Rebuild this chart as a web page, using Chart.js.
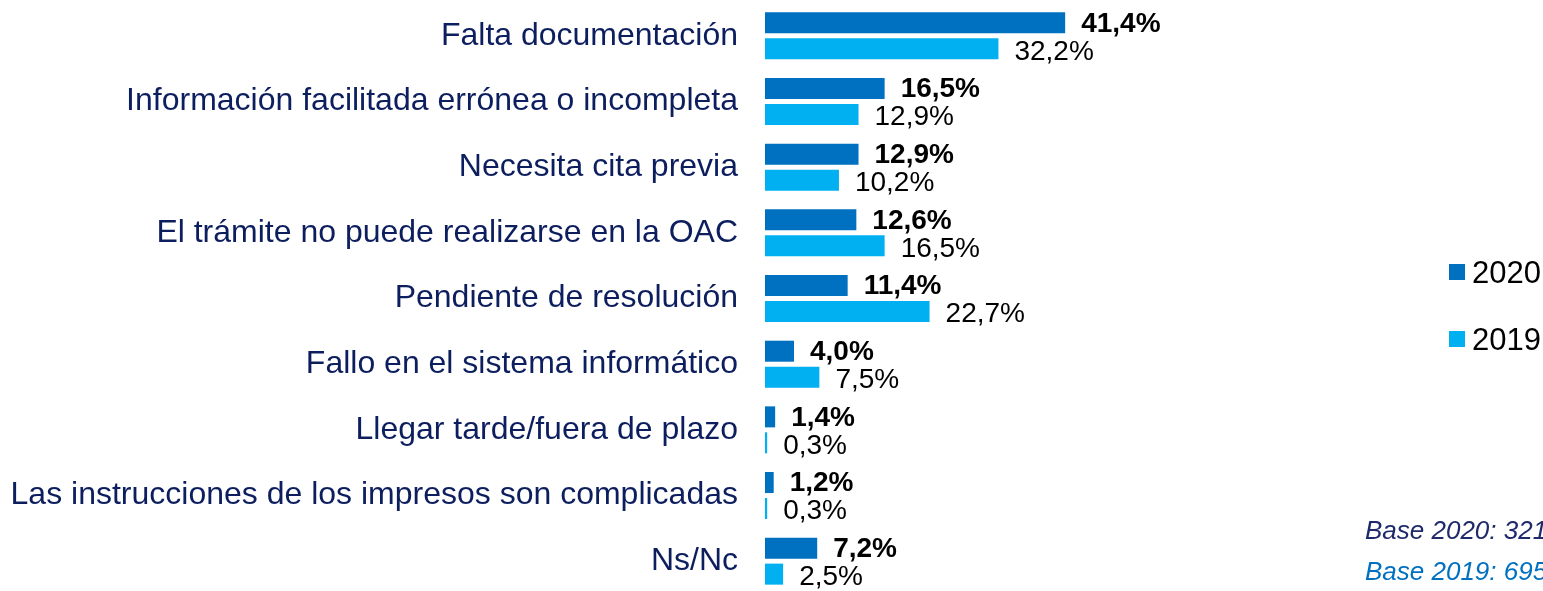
<!DOCTYPE html>
<html>
<head>
<meta charset="utf-8">
<script src="https://cdn.jsdelivr.net/npm/chart.js@4/dist/chart.umd.min.js"></script>
<style>
  html, body { margin: 0; padding: 0; background: #fff; overflow: hidden; }
  canvas { display: block; }
</style>
</head>
<body>
<canvas id="chart" width="1543" height="597"></canvas>
<script>
const categories = [
  'Falta documentación',
  'Información facilitada errónea o incompleta',
  'Necesita cita previa',
  'El trámite no puede realizarse en la OAC',
  'Pendiente de resolución',
  'Fallo en el sistema informático',
  'Llegar tarde/fuera de plazo',
  'Las instrucciones de los impresos son complicadas',
  'Ns/Nc'
];
const values2020 = [41.4, 16.5, 12.9, 12.6, 11.4, 4.0, 1.4, 1.2, 7.2];
const values2019 = [32.2, 12.9, 10.2, 16.5, 22.7, 7.5, 0.3, 0.3, 2.5];
const seriesNames = ['2020', '2019'];
const baseNotes = ['Base 2020: 321', 'Base 2019: 695'];

const fmt = v => v.toFixed(1).replace('.', ',') + '%';
const FONT = '"Liberation Sans", Arial, sans-serif';

// value labels next to every bar
const valueLabels = {
  id: 'valueLabels',
  afterDatasetsDraw(chart) {
    const ctx = chart.ctx;
    ctx.save();
    ctx.textAlign = 'left';
    ctx.textBaseline = 'middle';
    ctx.fillStyle = '#000';
    chart.data.datasets.forEach((ds, i) => {
      const meta = chart.getDatasetMeta(i);
      ctx.font = (i === 0 ? 'bold ' : '') + '28px ' + FONT;
      meta.data.forEach((bar, j) => {
        ctx.fillText(fmt(ds.data[j]), bar.x + 16, bar.y + (i === 0 ? 1 : 3));
      });
    });
    ctx.restore();
  }
};

// legend + base notes on the right
const sideText = {
  id: 'sideText',
  afterDraw(chart) {
    const ctx = chart.ctx;
    ctx.save();
    ctx.textBaseline = 'alphabetic';
    ctx.font = '31px ' + FONT;
    const legY = [272, 339];
    chart.data.datasets.forEach((ds, i) => {
      ctx.fillStyle = ds.backgroundColor;
      ctx.fillRect(1449, legY[i] - 8, 16, 16);
      ctx.fillStyle = '#000';
      ctx.fillText(ds.label, 1472, legY[i] + 11);
    });
    ctx.font = 'italic 26px ' + FONT;
    ctx.fillStyle = '#1F2A6C';
    ctx.fillText(baseNotes[0], 1365, 539);
    ctx.fillStyle = '#0070C0';
    ctx.fillText(baseNotes[1], 1365, 580);
    ctx.restore();
  }
};

new Chart(document.getElementById('chart'), {
  type: 'bar',
  data: {
    labels: categories,
    datasets: [
      { label: seriesNames[0], data: values2020, backgroundColor: '#0070C0' },
      { label: seriesNames[1], data: values2019, backgroundColor: '#00B0F0' }
    ]
  },
  options: {
    indexAxis: 'y',
    responsive: false,
    animation: false,
    categoryPercentage: 0.79,
    barPercentage: 0.81,
    layout: { padding: { top: 3, bottom: 3, right: 343, left: 0 } },
    plugins: {
      legend: { display: false },
      tooltip: { enabled: false }
    },
    scales: {
      x: {
        display: false,
        min: 0,
        max: 60
      },
      y: {
        afterFit(scale) {
          scale.width = 765;
          scale.paddingTop = 0;
          scale.paddingBottom = 0;
        },
        grid: { display: false, drawTicks: false },
        border: { display: false },
        ticks: {
          autoSkip: false,
          padding: 27,
          color: '#0D1E5E',
          font: { family: FONT, size: 32 }
        }
      }
    }
  },
  plugins: [valueLabels, sideText]
});
</script>
</body>
</html>
